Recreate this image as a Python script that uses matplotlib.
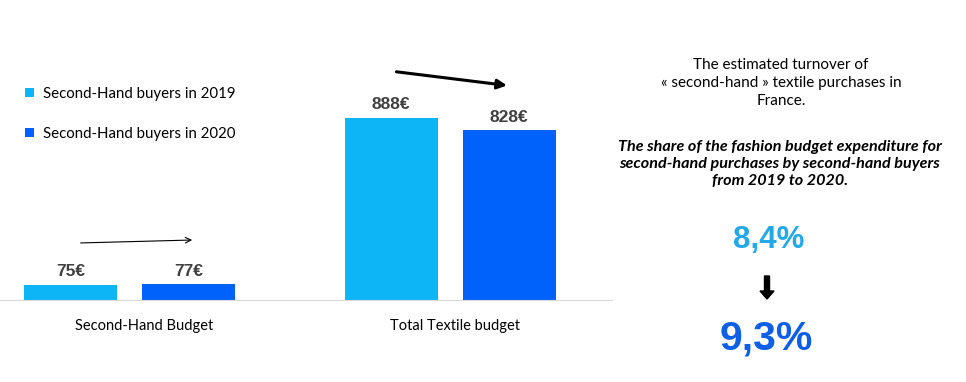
import numpy as np
import matplotlib
matplotlib.use('Agg')
import matplotlib.pyplot as plt

# data
categories = ['Second-Hand Budget', 'Total Textile budget']
series_names = ['Second-Hand buyers in 2019', 'Second-Hand buyers in 2020']
values_2019 = [75, 888]
values_2020 = [77, 828]
share_2019 = '8,4%'
share_2020 = '9,3%'

c19 = '#0db4f6'
c20 = '#0062fb'
txt_font = 'Lato'
num_font = 'Liberation Sans'

H = 382
fig = plt.figure(figsize=(9.66, 3.82), dpi=100)
ax = fig.add_axes([0.0, (H - 300) / H, 612 / 966, 280 / H])

x = np.arange(len(categories))
off, w = 0.184, 0.29
b1 = ax.bar(x - off, values_2019, w, color=c19, label=series_names[0])
b2 = ax.bar(x + off, values_2020, w, color=c20, label=series_names[1])

for bars, vals in [(b1, values_2019), (b2, values_2020)]:
    for rect, v in zip(bars, vals):
        ax.annotate(f'{v}€', (rect.get_x() + rect.get_width() / 2, v),
                    xytext=(0, 4), textcoords='offset points', ha='center', va='bottom',
                    fontsize=12.5, fontweight='bold', color='#404040', family=num_font)

ax.set_xlim(-0.404, 1.505)
ax.set_ylim(0, 1366)
ax.set_xticks(x + np.array([0.045, 0.016]), categories, fontsize=10.5, family=txt_font)
ax.tick_params(axis='x', length=0, pad=14)
ax.set_yticks([])
for s in ['top', 'right', 'left']:
    ax.spines[s].set_visible(False)
ax.spines['bottom'].set_color('#d9d9d9')

leg = ax.legend(loc='upper left', bbox_to_anchor=(0.018, 0.81), frameon=False,
                prop={'family': txt_font, 'size': 10.8}, handlelength=0.6,
                handleheight=0.6, handletextpad=0.6, labelspacing=1.75)

# trend arrows
ax.annotate('', xy=(0.204, 293), xytext=(-0.161, 278),
            arrowprops=dict(arrowstyle='->', color='black', lw=0.8))
ax.annotate('', xy=(1.186, 1045), xytext=(0.824, 1115),
            arrowprops=dict(arrowstyle='-|>', color='black', lw=2.2, mutation_scale=14))

# right-hand text block
fig.text(781 / 966, 1 - 83 / H, 'The estimated turnover of\n« second-hand » textile purchases in\nFrance.',
         ha='center', va='center', fontsize=11, family=txt_font, linespacing=1.4)
fig.text(780 / 966, 1 - 164 / H,
         'The share of the fashion budget expenditure for\nsecond-hand purchases by second-hand buyers\nfrom 2019 to 2020.',
         ha='center', va='center', fontsize=11.6, family=txt_font, fontweight='bold',
         style='italic', linespacing=1.3)
fig.text(769 / 966, 1 - 240 / H, share_2019, ha='center', va='center',
         fontsize=22.5, fontweight='bold', color='#22a9ea', family=num_font)
fig.text(766 / 966, 1 - 338 / H, share_2020, ha='center', va='center',
         fontsize=29.5, fontweight='bold', color='#0d5fe6', family=num_font)
fig.add_artist(matplotlib.patches.FancyArrow(767 / 966, 1 - 276 / H, 0, -23 / H,
               width=5 / 966, head_width=14 / 966, head_length=8 / H,
               length_includes_head=True, color='black', transform=fig.transFigure))

fig.savefig('out.png', dpi=100)
